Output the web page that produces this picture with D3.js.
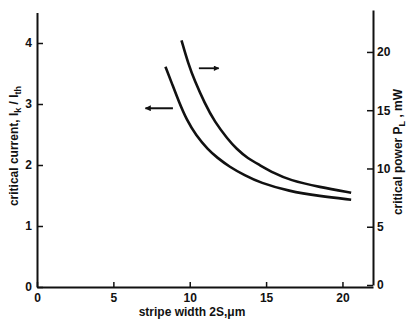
<!DOCTYPE html>
<html lang="en">
<head>
<meta charset="utf-8">
<script src="https://d3js.org/d3.v7.min.js"></script>
<style>
    body { margin: 0; background: #fff; }
    text { font-family: "Liberation Sans", Arial, sans-serif; font-weight: bold; fill: #111; }
</style>
</head>
<body>
<script>
    // stripe width 2S (um) vs critical current I_k/I_th (left axis)
    var currentWidth = [8.41, 8.8, 9.3, 9.8, 10.4, 11.2, 11.8, 12.6, 13.6, 14.6, 16.5, 18.5, 20.57];
    var currentValue = [3.61, 3.36, 3.03, 2.74, 2.49, 2.25, 2.12, 1.97, 1.83, 1.71, 1.57, 1.49, 1.43];

    // stripe width 2S (um) vs critical power P_L (mW, right axis)
    var powerWidth = [9.46, 9.9, 10.33, 10.98, 11.63, 12.5, 13.05, 13.81, 14.58, 15.5, 16.54, 18.5, 20.57];
    var powerValue = [21.0, 19.0, 17.5, 15.6, 14.0, 12.5, 11.7, 10.85, 10.3, 9.6, 9.0, 8.4, 7.92];

    var xTicks = [0, 5, 10, 15, 20];
    var leftTicks = [0, 1, 2, 3, 4];
    var rightTicks = [0, 5, 10, 15, 20];

    // arrows telling which axis each curve belongs to
    var leftArrow = { x1: 8.9, x2: 7.1, y: 2.93 };
    var rightArrow = { x1: 10.6, x2: 11.9, y: 18.6 };

    var width = 410, height = 326;

    var svg = d3.select("body").append("svg")
        .attr("width", width)
        .attr("height", height);

    var x = d3.scaleLinear().domain([0, 22]).range([37, 373]);
    var yL = d3.scaleLinear().domain([0, 4.5]).range([287, 12.5]);
    var yR = d3.scaleLinear().domain([0, 23.6]).range([285, 10]);

    var fmt = d3.format("d");

    // bottom axis
    var xAxis = svg.append("g")
        .attr("transform", "translate(0," + yL(0) + ")")
        .call(d3.axisBottom(x).tickValues(xTicks).tickFormat(fmt).tickSize(-5).tickSizeOuter(0).tickPadding(6));

    // left axis
    var lAxis = svg.append("g")
        .attr("transform", "translate(" + x(0) + ",0)")
        .call(d3.axisLeft(yL).tickValues(leftTicks).tickFormat(fmt).tickSize(-6).tickSizeOuter(0).tickPadding(5));

    // right axis
    var rAxis = svg.append("g")
        .attr("transform", "translate(" + x(22) + ",0)")
        .call(d3.axisRight(yR).tickValues(rightTicks).tickFormat(fmt).tickSize(-6).tickSizeOuter(0).tickPadding(4));

    [xAxis, lAxis, rAxis].forEach(function(a) {
        a.selectAll(".domain").attr("stroke", "#111").attr("stroke-width", 2);
        a.selectAll(".tick line").attr("stroke", "#111").attr("stroke-width", 1.5);
        a.selectAll(".tick text").style("font-size", "12px").style("font-family", "Liberation Sans, Arial, sans-serif").style("font-weight", "bold");
    });

    var lineL = d3.line()
        .x(function(d) { return x(d[0]); })
        .y(function(d) { return yL(d[1]); })
        .curve(d3.curveBasis);

    var lineR = d3.line()
        .x(function(d) { return x(d[0]); })
        .y(function(d) { return yR(d[1]); })
        .curve(d3.curveBasis);

    svg.append("path")
        .datum(d3.zip(currentWidth, currentValue))
        .attr("fill", "none")
        .attr("stroke", "#111")
        .attr("stroke-width", 2.6)
        .attr("d", lineL);

    svg.append("path")
        .datum(d3.zip(powerWidth, powerValue))
        .attr("fill", "none")
        .attr("stroke", "#111")
        .attr("stroke-width", 2.6)
        .attr("d", lineR);

    // arrow heads
    svg.append("defs").append("marker")
        .attr("id", "head")
        .attr("viewBox", "0 0 10 10")
        .attr("refX", 9).attr("refY", 5)
        .attr("markerWidth", 4).attr("markerHeight", 3)
        .attr("orient", "auto")
        .append("path")
        .attr("d", "M0,0L10,5L0,10z")
        .attr("fill", "#111");

    svg.append("line")
        .attr("x1", x(leftArrow.x1)).attr("x2", x(leftArrow.x2))
        .attr("y1", yL(leftArrow.y)).attr("y2", yL(leftArrow.y))
        .attr("stroke", "#111").attr("stroke-width", 2)
        .attr("marker-end", "url(#head)");

    svg.append("line")
        .attr("x1", x(rightArrow.x1)).attr("x2", x(rightArrow.x2))
        .attr("y1", yR(rightArrow.y)).attr("y2", yR(rightArrow.y))
        .attr("stroke", "#111").attr("stroke-width", 1.8)
        .attr("marker-end", "url(#head)");

    // axis titles
    svg.append("text")
        .attr("x", 192).attr("y", 316)
        .attr("text-anchor", "middle")
        .style("font-size", "12px")
        .text("stripe width 2S,\u03bcm");

    var lt = svg.append("text")
        .attr("transform", "translate(18,146) rotate(-90)")
        .attr("text-anchor", "middle")
        .style("font-size", "12px");
    lt.append("tspan").text("critical current, I");
    lt.append("tspan").attr("dy", 3).style("font-size", "9px").text("k");
    lt.append("tspan").attr("dy", -3).text(" / I");
    lt.append("tspan").attr("dy", 3).style("font-size", "9px").text("th");

    var rt = svg.append("text")
        .attr("transform", "translate(402,152) rotate(-90)")
        .attr("text-anchor", "middle")
        .style("font-size", "12px");
    rt.append("tspan").text("critical  power  P");
    rt.append("tspan").attr("dy", 3).style("font-size", "9px").text("L");
    rt.append("tspan").attr("dy", -3).text(" , mW");
</script>
</body>
</html>
